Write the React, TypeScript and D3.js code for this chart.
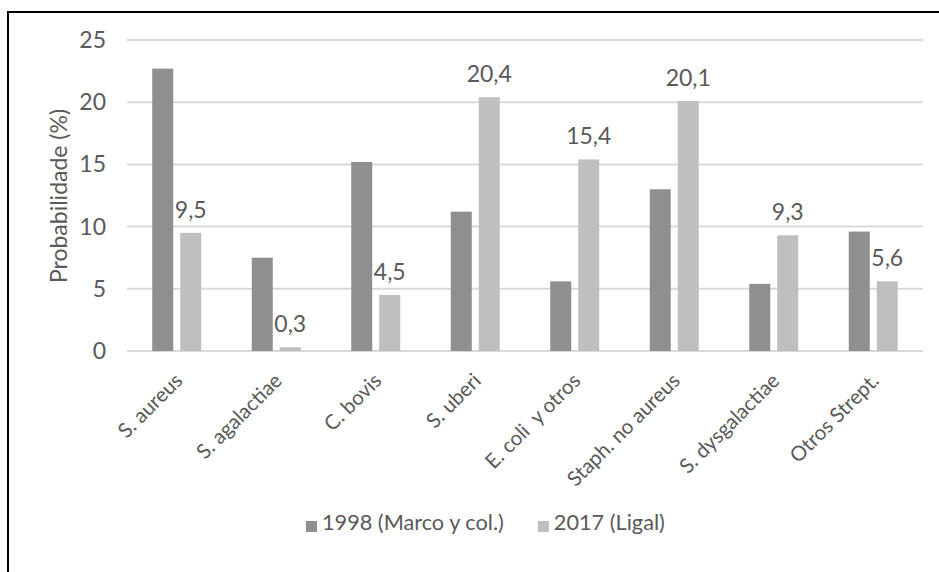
import React, { useEffect, useRef } from "react";
import * as d3 from "d3";

const categories = [
  "S. aureus",
  "S. agalactiae",
  "C. bovis",
  "S. uberi",
  "E. coli  y otros",
  "Staph. no aureus",
  "S. dysgalactiae",
  "Otros Strept.",
];
const series1998 = [22.7, 7.5, 15.2, 11.2, 5.6, 13.0, 5.4, 9.6];
const series2017 = [9.5, 0.3, 4.5, 20.4, 15.4, 20.1, 9.3, 5.6];
const seriesNames = ["1998 (Marco y col.)", "2017 (Ligal)"];
const yTicks = [0, 5, 10, 15, 20, 25];

const W = 939;
const H = 572;
const FONT = "Lato, 'Open Sans', sans-serif";
const TEXT = "#595959";
const C1 = "#8f8f8f";
const C2 = "#bfbfbf";
const GRID = "#d9d9d9";
const FS = 23;

export default function App() {
  const ref = useRef<SVGSVGElement>(null);
  useEffect(() => {
    const svg = d3.select(ref.current);
    svg.selectAll("*").remove();

    const left = 127, right = 923, top = 40, bottom = 351;
    const x = d3.scaleBand<string>().domain(categories).range([left, right]);
    const y = d3.scaleLinear().domain([0, 25]).range([bottom, top]);
    const bw = 21, gap = 7;

    svg.append("rect").attr("x", 8).attr("y", 12).attr("width", W + 20).attr("height", H + 20)
      .attr("fill", "#fff").attr("stroke", "#000").attr("stroke-width", 2);

    svg.append("g").selectAll("line").data(yTicks).join("line")
      .attr("x1", left).attr("x2", right)
      .attr("y1", (d) => y(d)).attr("y2", (d) => y(d))
      .attr("stroke", GRID).attr("stroke-width", 2);

    svg.append("g").selectAll("text").data(yTicks).join("text")
      .attr("x", 106).attr("y", (d) => y(d)).attr("dy", "0.35em")
      .attr("text-anchor", "end").attr("fill", TEXT)
      .style("font-family", FONT).style("font-size", FS + "px")
      .text((d) => String(d));

    svg.append("text")
      .attr("transform", `translate(67,196) rotate(-90)`)
      .attr("text-anchor", "middle").attr("fill", TEXT)
      .style("font-family", FONT).style("font-size", FS + "px")
      .text("Probabilidade (%)");

    const cx = (c: string) => (x(c) as number) + x.bandwidth() / 2;

    svg.append("g").selectAll("rect").data(categories).join("rect")
      .attr("x", (c) => cx(c) - gap / 2 - bw)
      .attr("width", bw)
      .attr("y", (c, i) => y(series1998[i]))
      .attr("height", (c, i) => bottom - y(series1998[i]))
      .attr("fill", C1);

    svg.append("g").selectAll("rect").data(categories).join("rect")
      .attr("x", (c) => cx(c) + gap / 2)
      .attr("width", bw)
      .attr("y", (c, i) => y(series2017[i]))
      .attr("height", (c, i) => bottom - y(series2017[i]))
      .attr("fill", C2);

    svg.append("g").selectAll("text").data(categories).join("text")
      .attr("x", (c) => cx(c) + gap / 2 + bw / 2)
      .attr("y", (c, i) => y(series2017[i]) - 15)
      .attr("text-anchor", "middle").attr("fill", TEXT)
      .style("font-family", FONT).style("font-size", FS + "px")
      .text((c, i) => series2017[i].toFixed(1).replace(".", ","));

    svg.append("g").selectAll("text").data(categories).join("text")
      .attr("transform", (c) => `translate(${cx(c) + 7},${bottom + 31}) rotate(-45)`)
      .attr("text-anchor", "end").attr("fill", TEXT)
      .style("font-family", FONT).style("font-size", "20.5px")
      .style("white-space", "pre")
      .text((c) => c);

    // legend
    const lg = svg.append("g");
    const colors = [C1, C2];
    let lx = 306;
    const ly = 530;
    seriesNames.forEach((name, i) => {
      lg.append("rect").attr("x", lx).attr("y", ly - 9).attr("width", 11).attr("height", 11).attr("fill", colors[i]);
      const t = lg.append("text").attr("x", lx + 16).attr("y", ly)
        .attr("fill", TEXT).style("font-family", FONT).style("font-size", "21.7px").text(name);
      const w = (t.node() as SVGTextElement).getComputedTextLength();
      lx = lx + 16 + w + 34;
    });
  }, []);
  return (
    <svg ref={ref} width={W} height={H}
      style={{ position: "absolute", left: 0, top: 0, display: "block", background: "#fff" }} />
  );
}
